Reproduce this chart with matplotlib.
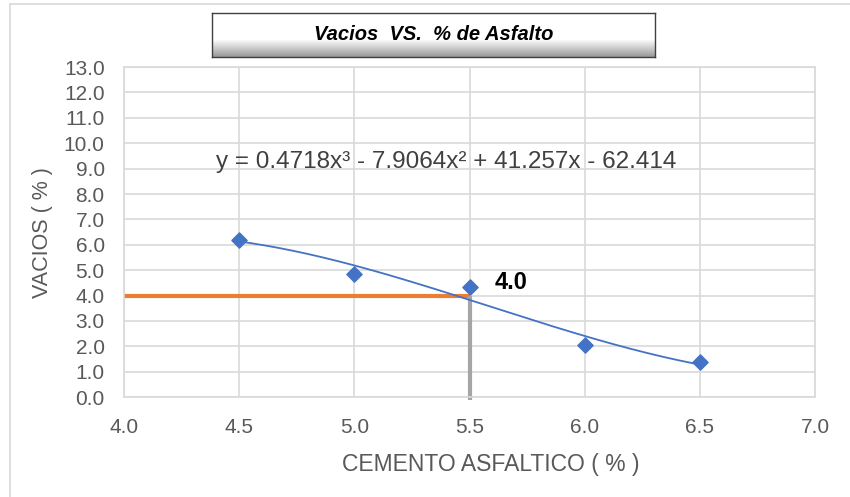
import matplotlib
matplotlib.use("Agg")
import matplotlib.pyplot as plt
import numpy as np
from matplotlib.lines import Line2D

plt.rcParams["font.family"] = ["Liberation Sans", "DejaVu Sans"]

# Data
asphalt = [4.5, 5.0, 5.5, 6.0, 6.5]
voids = [6.2, 4.85, 4.35, 2.05, 1.38]
# trendline coefficients as printed on the chart
trend_coef = [0.4718, -7.9064, 41.257, -62.414]
design_voids = 4.0
design_asphalt = 5.5

BLUE = "#4472c4"
ORANGE = "#ed7d31"
GRID = "#d9d9d9"
TICK = "#595959"

fig = plt.figure(figsize=(8.5, 4.97), dpi=100)
ax = fig.add_axes([0.146, 0.201, 0.813, 0.664])

# chart border (left and top visible)
fig.add_artist(Line2D([10 / 850, 10 / 850], [0, 1 - 4 / 497],
                      transform=fig.transFigure, color="#d9d9d9", lw=1.2))
fig.add_artist(Line2D([10 / 850, 1], [1 - 4 / 497, 1 - 4 / 497],
                      transform=fig.transFigure, color="#d9d9d9", lw=1.2))

ax.set_xlim(4.0, 7.0)
ax.set_ylim(0.0, 13.0)
ax.set_xticks(np.arange(4.0, 7.01, 0.5))
ax.set_yticks(np.arange(0.0, 13.01, 1.0))
ax.xaxis.set_major_formatter(matplotlib.ticker.FormatStrFormatter("%.1f"))
ax.yaxis.set_major_formatter(matplotlib.ticker.FormatStrFormatter("%.1f"))
ax.grid(True, color=GRID, lw=1.2)
ax.set_axisbelow(True)
for s in ax.spines.values():
    s.set_color(GRID)
    s.set_linewidth(1.2)
ax.tick_params(length=0, labelsize=15, colors=TICK)
ax.tick_params(axis="y", pad=14)
ax.tick_params(axis="x", pad=15)

# trendline
xs = np.linspace(min(asphalt), max(asphalt), 200)
ax.plot(xs, np.polyval(trend_coef, xs), color=BLUE, lw=1.3, zorder=3)

# design lines
ax.plot([4.0, design_asphalt], [design_voids, design_voids], color=ORANGE,
        lw=3, zorder=2, solid_capstyle="butt")
ax.plot([design_asphalt, design_asphalt], [-0.1, design_voids], color="#a5a5a5",
        lw=3, zorder=2, solid_capstyle="butt", clip_on=False)

ax.scatter(asphalt, voids, marker="D", s=60, color=BLUE, zorder=4)

ax.text(design_asphalt + 0.11, design_voids + 0.5, "4.0", fontsize=17,
        fontweight="bold", color="black", ha="left", va="center")

ax.text(5.4, 9.25, "y = 0.4718x³ - 7.9064x² + 41.257x - 62.414",
        fontsize=17.5, color="#404040", ha="center", va="center")

ax.set_xlabel("CEMENTO ASFALTICO ( % )", fontsize=16.5, color=TICK)
ax.xaxis.set_label_coords(0.531, -0.17)
ax.set_ylabel("VACIOS ( % )", fontsize=15.5, color=TICK, labelpad=8)

# title box with gradient
tx0, ty0, tw, th = 212 / 850, 1 - 57 / 497, 443 / 850, 44 / 497
grad = np.linspace(1.0, 0.0, 64).reshape(-1, 1)
grad = np.where(grad > 0.4, 1.0, 0.6 + 0.4 * grad / 0.4)
tax = fig.add_axes([tx0, ty0, tw, th])
tax.imshow(grad, aspect="auto", cmap="gray", vmin=0, vmax=1,
           extent=[0, 1, 0, 1], origin="upper")
tax.set_xlim(0, 1)
tax.set_ylim(0, 1)
tax.set_xticks([])
tax.set_yticks([])
for s in tax.spines.values():
    s.set_color("#404040")
    s.set_linewidth(1.0)
tax.text(0.5, 0.52, "Vacios  VS.  % de Asfalto", fontsize=14.5, fontweight="bold",
         style="italic", ha="center", va="center", color="black")

fig.savefig("out.png", dpi=100, facecolor="white")
